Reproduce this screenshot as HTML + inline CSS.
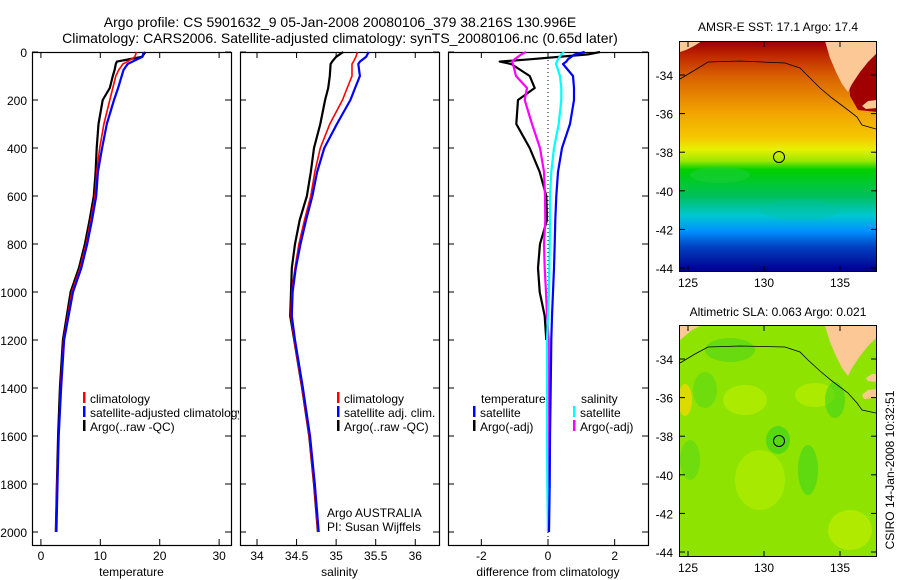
<!DOCTYPE html>
<html><head><meta charset="utf-8"><style>
html,body{margin:0;padding:0;background:#fff;}
svg{display:block;font-family:"Liberation Sans",sans-serif;}
text{fill:#000;}
</style></head><body>
<svg id="fig" width="900" height="580" viewBox="0 0 900 580">
<defs>
<clipPath id="clipP1"><rect x="32" y="45" width="207" height="500"/></clipPath>
<clipPath id="clipM1"><rect x="680" y="42" width="196" height="229"/></clipPath>
<clipPath id="clipM2"><rect x="680" y="326" width="196" height="230"/></clipPath>
<linearGradient id="sstGrad" x1="0" y1="42" x2="0" y2="270" gradientUnits="userSpaceOnUse">
<stop offset="0" stop-color="#a00000"/>
<stop offset="0.06" stop-color="#c02800"/>
<stop offset="0.15" stop-color="#d86000"/>
<stop offset="0.3" stop-color="#f0a000"/>
<stop offset="0.42" stop-color="#f5c800"/>
<stop offset="0.47" stop-color="#e8f000"/>
<stop offset="0.52" stop-color="#a0e800"/>
<stop offset="0.56" stop-color="#00d000"/>
<stop offset="0.68" stop-color="#00c060"/>
<stop offset="0.76" stop-color="#00c8d0"/>
<stop offset="0.83" stop-color="#0090ff"/>
<stop offset="0.9" stop-color="#0040c0"/>
<stop offset="1" stop-color="#000090"/>
</linearGradient>
</defs>

<text x="340" y="27" font-size="14" text-anchor="middle">Argo profile: CS 5901632_9 05-Jan-2008 20080106_379 38.216S 130.996E</text>
<text x="340" y="43" font-size="14" text-anchor="middle">Climatology: CARS2006. Satellite-adjusted climatology: synTS_20080106.nc (0.65d later)</text>

<g id="panels"></g>

<!-- Map 1 -->
<g>
<text x="778" y="31" font-size="12" text-anchor="middle">AMSR-E SST: 17.1 Argo: 17.4</text>
<g clip-path="url(#clipM1)">
<rect x="680" y="42" width="196" height="229" fill="url(#sstGrad)"/>
<ellipse cx="720" cy="175" rx="30" ry="8" fill="#20d040" opacity="0.5"/>
<ellipse cx="800" cy="210" rx="40" ry="10" fill="#00c0a0" opacity="0.4"/>
<path d="M848,60 L877,50 L877,112 L858,110 L850,96 Z" fill="#a00000"/>
<path d="M680,41 L702,41 L694,46 L686,50 L680,52 Z" fill="#fcc896"/>
<path d="M825,41 L877,41 L877,53 L868,62 L860,72 L852,84 L848,92 L842,84 L836,72 L830,58 Z" fill="#fcc896"/>
<path d="M862,106 L868,101 L877,100 L877,108 L866,109 Z" fill="#fcc896"/>
<polyline points="680,79 695,70 708,62 740,61 785,63 800,68 808,76 820,88 832,98 848,110 857,117 862,125 876,129" fill="none" stroke="#000" stroke-width="0.8"/>
</g>
<rect x="679.5" y="41.5" width="197" height="230" fill="none" stroke="#000"/>
<circle cx="779" cy="157" r="5.5" fill="none" stroke="#000"/>
<g id="map1ticks"></g>
</g>

<!-- Map 2 -->
<g>
<text x="778" y="316" font-size="12" text-anchor="middle">Altimetric SLA: 0.063 Argo: 0.021</text>
<g clip-path="url(#clipM2)">
<rect x="680" y="326" width="196" height="230" fill="#8ee400"/>
<ellipse cx="685" cy="400" rx="7" ry="16" fill="#f0d800" opacity="0.8"/>
<ellipse cx="745" cy="400" rx="22" ry="15" fill="#c0f000" opacity="0.6"/>
<ellipse cx="815" cy="395" rx="20" ry="12" fill="#c0f000" opacity="0.6"/>
<ellipse cx="760" cy="480" rx="25" ry="30" fill="#c0f000" opacity="0.5"/>
<ellipse cx="850" cy="530" rx="22" ry="20" fill="#d0f000" opacity="0.5"/>
<ellipse cx="730" cy="350" rx="25" ry="12" fill="#40d020" opacity="0.5"/>
<ellipse cx="778" cy="440" rx="12" ry="14" fill="#30d020" opacity="0.6"/>
<ellipse cx="808" cy="470" rx="10" ry="25" fill="#30d020" opacity="0.5"/>
<ellipse cx="835" cy="400" rx="10" ry="18" fill="#30d020" opacity="0.5"/>
<ellipse cx="705" cy="390" rx="12" ry="18" fill="#40d020" opacity="0.4"/>
<ellipse cx="690" cy="460" rx="10" ry="20" fill="#40d020" opacity="0.4"/>
<path d="M680,326 L700,326 L692,330 L686,335 L680,340 Z" fill="#fcc896"/>
<path d="M825,326 L877,326 L877,337 L868,346 L860,356 L852,368 L848,376 L842,368 L836,356 L830,342 Z" fill="#fcc896"/>
<path d="M862,395 L868,390 L877,389 L877,398 L864,399 Z" fill="#fcc896"/>
<path d="M866,378 L872,374 L877,374 L877,382 L868,381 Z" fill="#fcc896"/>
<polyline points="680,363 695,354 708,347 740,346 785,347 800,352 808,360 820,371 832,381 848,393 857,403 862,410 876,413" fill="none" stroke="#000" stroke-width="0.8"/>
</g>
<rect x="679.5" y="325.5" width="197" height="231" fill="none" stroke="#000"/>
<circle cx="779" cy="441" r="5.5" fill="none" stroke="#000"/>
<g id="map2ticks"></g>
</g>

<text transform="translate(894,470) rotate(-90)" font-size="12" text-anchor="middle">CSIRO 14-Jan-2008 10:32:51</text>
</svg>

<script>
// ---- data ----
const depthTicks = [0,200,400,600,800,1000,1200,1400,1600,1800,2000];
const tempTicks = [0,10,20,30];
const salTicks = [34,34.5,35,35.5,36];
const diffTicks = [-2,0,2];
const tempDepths = [0,20,40,50,75,100,150,200,300,400,500,600,700,800,900,1000,1200,1400,1600,1800,2000];
const tempArgo = [17.6,17.0,12.8,12.6,12.4,12.1,11.6,10.4,9.7,9.4,9.2,8.9,8.2,7.4,6.4,5.0,3.7,3.2,2.9,2.7,2.5];
const tempClim = [16.1,15.8,14.6,13.8,13.1,12.6,12.1,11.6,10.6,9.9,9.4,9.1,8.4,7.6,6.6,5.2,3.8,3.3,3.0,2.7,2.5];
const tempSat = [17.3,17.1,15.4,14.6,13.9,13.6,13.0,12.3,11.1,10.3,9.6,9.3,8.6,7.8,6.8,5.4,3.9,3.4,3.0,2.8,2.6];
const salDepths = [0,20,40,50,100,150,200,300,400,500,600,700,800,900,1000,1100,1200,1400,1600,1800,2000];
const salArgo = [35.09,35.0,34.95,34.93,34.92,34.90,34.86,34.80,34.72,34.68,34.63,34.54,34.48,34.44,34.43,34.42,34.47,34.57,34.66,34.72,34.77];
const salClim = [35.27,35.25,35.22,35.2,35.2,35.14,35.08,34.92,34.80,34.73,34.68,34.60,34.53,34.48,34.44,34.43,34.47,34.57,34.66,34.72,34.77];
const salSat = [35.41,35.38,35.3,35.28,35.3,35.24,35.18,35.01,34.85,34.76,34.70,34.62,34.55,34.49,34.45,34.44,34.48,34.58,34.67,34.73,34.78];
const diffDepths = [0,10,30,40,50,100,150,200,300,400,500,600,700,800,900,1000,1100,1200,1400,1600,1800,2000];
const diffTempArgo = [1.56,1.2,-0.5,-1.45,-1.1,-0.55,-0.4,-0.9,-0.95,-0.55,-0.25,-0.05,-0.03,-0.24,-0.3,-0.25,-0.1,-0.05,null,null,null,null];
const diffTempSat = [1.1,0.8,0.6,0.55,0.45,0.75,0.78,0.78,0.66,0.42,0.3,0.25,0.22,0.2,0.18,0.15,0.12,0.1,0.08,0.06,0.05,0.03];
const diffSalSat = [0.48,0.4,0.3,0.26,0.24,0.36,0.4,0.4,0.32,0.18,0.1,0.06,0.06,0.05,0.04,0.03,0.0,-0.03,-0.03,-0.03,-0.02,0.0];
const diffSalArgo = [-0.66,-0.8,-1.0,-1.08,-1.05,-0.96,-0.63,-0.7,-0.48,-0.24,-0.12,-0.09,-0.08,-0.12,-0.1,-0.06,-0.03,0.02,0.03,0.0,0.0,0.0];
const latTicks = [-34,-36,-38,-40,-42,-44];
const lonTicks = [125,130,135];

// ---- helpers ----
const NS = "http://www.w3.org/2000/svg";
const root = document.getElementById('panels');
function mk(tag, attrs, parent){
  const e = document.createElementNS(NS, tag);
  for (const k in attrs) e.setAttribute(k, attrs[k]);
  (parent||root).appendChild(e);
  return e;
}
const Y0 = 52, YS = 0.24;
function yD(d){ return Y0 + d*YS; }

const panels = [
  {name:'temperature-panel', x0:32, x1:231, xmin:-1.5, xmax:32, ticks:tempTicks, label:'temperature', yLabels:true},
  {name:'salinity-panel', x0:240, x1:439, xmin:33.785, xmax:36.3, ticks:salTicks, label:'salinity', yLabels:false},
  {name:'difference-panel', x0:448, x1:648, xmin:-3.0, xmax:3.0, ticks:diffTicks, label:'difference from climatology', yLabels:false}
];
panels.forEach(p => { p.sx = v => p.x0 + (v - p.xmin)/(p.xmax - p.xmin)*(p.x1 - p.x0); });

function drawLine(p, vals, depths, color, w, name, clip){
  let pts = [];
  const segs = [];
  vals.forEach((v,i) => {
    if (v === null) { if (pts.length) segs.push(pts); pts = []; return; }
    pts.push(p.sx(v).toFixed(1)+','+yD(depths[i]).toFixed(1));
  });
  if (pts.length) segs.push(pts);
  segs.forEach(s => {
    const el = mk('polyline', {points:s.join(' '), fill:'none', stroke:color, 'stroke-width':w, 'stroke-linejoin':'round'});
    
    
    if (clip) el.setAttribute('clip-path', clip);
  });
}

panels.forEach((p,pi) => {
  const g = mk('g', {});
  
  
  const fr = mk('rect', {x:p.x0+0.5, y:Y0+0.5, width:p.x1-p.x0, height:545-Y0, fill:'none', stroke:'#000', 'stroke-width':1.2}, g);
  
  
  depthTicks.forEach(d => {
    const y = yD(d);
    mk('line', {x1:p.x0, x2:p.x0+6, y1:y, y2:y, stroke:'#000'}, g);
    mk('line', {x1:p.x1-6, x2:p.x1, y1:y, y2:y, stroke:'#000'}, g);
    if (p.yLabels) {
      const t = mk('text', {x:27, y:y+5, 'font-size':12, 'text-anchor':'end'}, g);
      t.textContent = d;
      
      
    }
  });
  p.ticks.forEach(v => {
    const x = p.sx(v);
    mk('line', {x1:x, x2:x, y1:545, y2:539, stroke:'#000'}, g);
    mk('line', {x1:x, x2:x, y1:Y0, y2:Y0+6, stroke:'#000'}, g);
    const t = mk('text', {x:x, y:560, 'font-size':12, 'text-anchor':'middle'}, g);
    t.textContent = v;
    
    
  });
  const lab = mk('text', {x:(p.x0+p.x1)/2, y:576, 'font-size':12, 'text-anchor':'middle'}, g);
  lab.textContent = p.label;
  
  
});

drawLine(panels[0], tempArgo, tempDepths, '#000', 2.2, 'temp-argo-line');
drawLine(panels[0], tempClim, tempDepths, '#f00', 1.6, 'temp-climatology-line');
drawLine(panels[0], tempSat, tempDepths, '#00f', 2.2, 'temp-satellite-line');
drawLine(panels[1], salArgo, salDepths, '#000', 2.2, 'sal-argo-line');
drawLine(panels[1], salClim, salDepths, '#f00', 1.6, 'sal-climatology-line');
drawLine(panels[1], salSat, salDepths, '#00f', 2.2, 'sal-satellite-line');
{
  const p = panels[2], x = p.sx(0);
  const z = mk('line', {x1:x, x2:x, y1:Y0, y2:545, stroke:'#000', 'stroke-dasharray':'1,3'});
  
  
}
drawLine(panels[2], diffTempArgo, diffDepths, '#000', 2.2, 'diff-temp-argo-line');
drawLine(panels[2], diffSalArgo, diffDepths, '#f0f', 2.2, 'diff-sal-argo-line');
drawLine(panels[2], diffSalSat, diffDepths, '#0ff', 2.2, 'diff-sal-satellite-line');
drawLine(panels[2], diffTempSat, diffDepths, '#00f', 2.2, 'diff-temp-satellite-line');

function legend(x, y, color, txt, clip, name){
  if (color) {
    const b = mk('rect', {x:x, y:y-11, width:2.5, height:11, fill:color});
    
    
  }
  const t = mk('text', {x:x+7, y:y, 'font-size':12});
  t.textContent = txt;
  
  
  if (clip) t.setAttribute('clip-path', clip);
}
legend(83, 403, '#f00', 'climatology', null, 'legend-entry-climatology');
legend(83, 417, '#00f', 'satellite-adjusted climatology', 'url(#clipP1)', 'legend-entry-satellite');
legend(83, 431, '#000', 'Argo(..raw -QC)', null, 'legend-entry-argo');
legend(337, 403, '#f00', 'climatology', null, 'legend-entry-sal-climatology');
legend(337, 417, '#00f', 'satellite adj. clim.', null, 'legend-entry-sal-satellite');
legend(337, 431, '#000', 'Argo(..raw -QC)', null, 'legend-entry-sal-argo');
legend(320, 517, null, 'Argo AUSTRALIA', null, 'argo-australia-label');
legend(320, 531, null, 'PI: Susan Wijffels', null, 'pi-label');
legend(474, 403, null, 'temperature', null, 'legend-heading-temperature');
legend(473, 417, '#00f', 'satellite', null, 'legend-entry-diff-temp-satellite');
legend(473, 431, '#000', 'Argo(-adj)', null, 'legend-entry-diff-temp-argo');
legend(574, 403, null, 'salinity', null, 'legend-heading-salinity');
legend(573, 417, '#0ff', 'satellite', null, 'legend-entry-diff-sal-satellite');
legend(573, 431, '#f0f', 'Argo(-adj)', null, 'legend-entry-diff-sal-argo');

function mapTicks(gid, top, bottom, latRef){
  const g = document.getElementById(gid);
  latTicks.forEach(l => {
    const y = latRef + (-34 - l)*19.3;
    mk('line', {x1:680, x2:685, y1:y, y2:y, stroke:'#000'}, g);
    mk('line', {x1:871, x2:876, y1:y, y2:y, stroke:'#000'}, g);
    const t = mk('text', {x:673, y:y+5, 'font-size':12, 'text-anchor':'end'}, g);
    t.textContent = l;
    
    
  });
  lonTicks.forEach(l => {
    const x = 688 + (l-125)*15.2;
    mk('line', {x1:x, x2:x, y1:bottom, y2:bottom-5, stroke:'#000'}, g);
    mk('line', {x1:x, x2:x, y1:top, y2:top+5, stroke:'#000'}, g);
    const t = mk('text', {x:x, y:bottom+16, 'font-size':12, 'text-anchor':'middle'}, g);
    t.textContent = l;
    
    
  });
}
mapTicks('map1ticks', 42, 271, 75);
mapTicks('map2ticks', 326, 556, 359);
</script>
</body></html>
